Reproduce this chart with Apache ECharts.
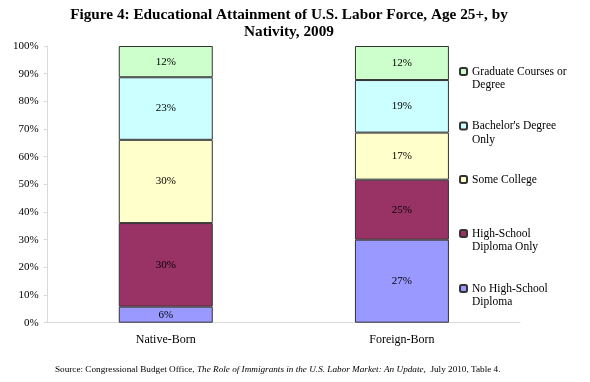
<!DOCTYPE html>
<html>
<head>
<meta charset="utf-8">
<script src="https://cdn.jsdelivr.net/npm/echarts@6/dist/echarts.min.js"></script>
<style>html,body{margin:0;padding:0;background:#fff}#c{width:590px;height:382px}</style>
</head>
<body>
<div id="c"></div>
<script>
// ---- data ----
var categories = ['Native-Born', 'Foreign-Born'];
var seriesNames = ['No High-School Diploma', 'High-School Diploma Only', 'Some College', "Bachelor's Degree Only", 'Graduate Courses or Degree'];
var legendText = ['No High-School\nDiploma', 'High-School\nDiploma Only', 'Some College', "Bachelor's Degree\nOnly", 'Graduate Courses or\nDegree'];
// segment heights as drawn (percent)
var noHighSchool = [5.8, 30.0];
var highSchool = [30.2, 21.7];
var someCollege = [30.1, 17.0];
var bachelors = [22.6, 19.0];
var graduate = [11.3, 12.3];
// printed labels (percent)
var noHighSchoolLabels = [6, 27];
var highSchoolLabels = [30, 25];
var someCollegeLabels = [30, 17];
var bachelorsLabels = [23, 19];
var graduateLabels = [12, 12];
var yTicks = [0, 10, 20, 30, 40, 50, 60, 70, 80, 90, 100];

var values = [noHighSchool, highSchool, someCollege, bachelors, graduate];
var labels = [noHighSchoolLabels, highSchoolLabels, someCollegeLabels, bachelorsLabels, graduateLabels];
var colors = ['#9999FF', '#993366', '#FFFFCC', '#CCFFFF', '#CCFFCC'];
var serif = '"Liberation Serif", "DejaVu Serif", serif';

var series = values.map(function (v, i) {
  return {
    name: seriesNames[i],
    type: 'bar',
    stack: 'all',
    barWidth: 94,
    data: v,
    itemStyle: { color: colors[i], borderColor: '#333', borderWidth: 1 },
    label: {
      show: true,
      position: 'inside',
      fontFamily: serif,
      fontSize: 11,
      color: '#000',
      formatter: function (p) { return labels[i][p.dataIndex] + '%'; }
    }
  };
});

var legendCenters = [288.5, 233.5, 179.5, 126, 71.5];
var LH = 13.5;
var legends = seriesNames.map(function (n, i) {
  var twoLine = legendText[i].indexOf('\n') >= 0;
  var txt = twoLine ? ' \n' + legendText[i] : legendText[i];
  return {
    orient: 'vertical',
    left: 459,
    top: legendCenters[i] - (twoLine ? 1.5 : 0.5) * LH,
    padding: 0,
    itemWidth: 7,
    itemHeight: 7,
    selectedMode: false,
    formatter: function () { return txt; },
    textStyle: { fontFamily: serif, fontSize: 11.5, color: '#000', lineHeight: LH },
    data: [n]
  };
});

var chart = echarts.init(document.getElementById('c'));
chart.setOption({
  animation: false,
  backgroundColor: '#fff',
  title: [{
    text: 'Figure 4: Educational Attainment of U.S. Labor Force, Age 25+, by\nNativity, 2009',
    left: 284, top: 2, textAlign: 'center',
    textStyle: { fontFamily: serif, fontSize: 15.25, fontWeight: 'bold', color: '#000', lineHeight: 16.5 }
  }, {
    text: '{n|Source: Congressional Budget Office, }{i|The Role of Immigrants in the U.S. Labor Market: An Update,}{n|  July 2010, Table 4.}',
    left: 55, top: 365, padding: 0,
    textStyle: {
      fontWeight: 'normal',
      rich: {
        n: { fontFamily: serif, fontSize: 9.2, fontWeight: 'normal', color: '#000' },
        i: { fontFamily: serif, fontSize: 9.2, fontWeight: 'normal', fontStyle: 'italic', color: '#000' }
      }
    }
  }],
  legend: legends,
  grid: { left: 47.7, right: 70, top: 46, bottom: 59.3, containLabel: false, outerBoundsMode: 'none' },
  xAxis: {
    type: 'category',
    data: categories,
    axisLine: { lineStyle: { color: '#d9d9d9' } },
    axisTick: { show: false },
    axisLabel: { fontFamily: serif, fontSize: 12, color: '#000', margin: 11 }
  },
  yAxis: {
    type: 'value',
    min: yTicks[0], max: yTicks[yTicks.length - 1], interval: 10,
    splitLine: { show: false },
    axisLine: { show: true, lineStyle: { color: '#d9d9d9' } },
    axisTick: { show: true, length: 4, lineStyle: { color: '#d9d9d9' } },
    axisLabel: { fontFamily: serif, fontSize: 11, color: '#000', margin: 9, formatter: '{value}%' }
  },
  series: series
});
</script>
</body>
</html>
